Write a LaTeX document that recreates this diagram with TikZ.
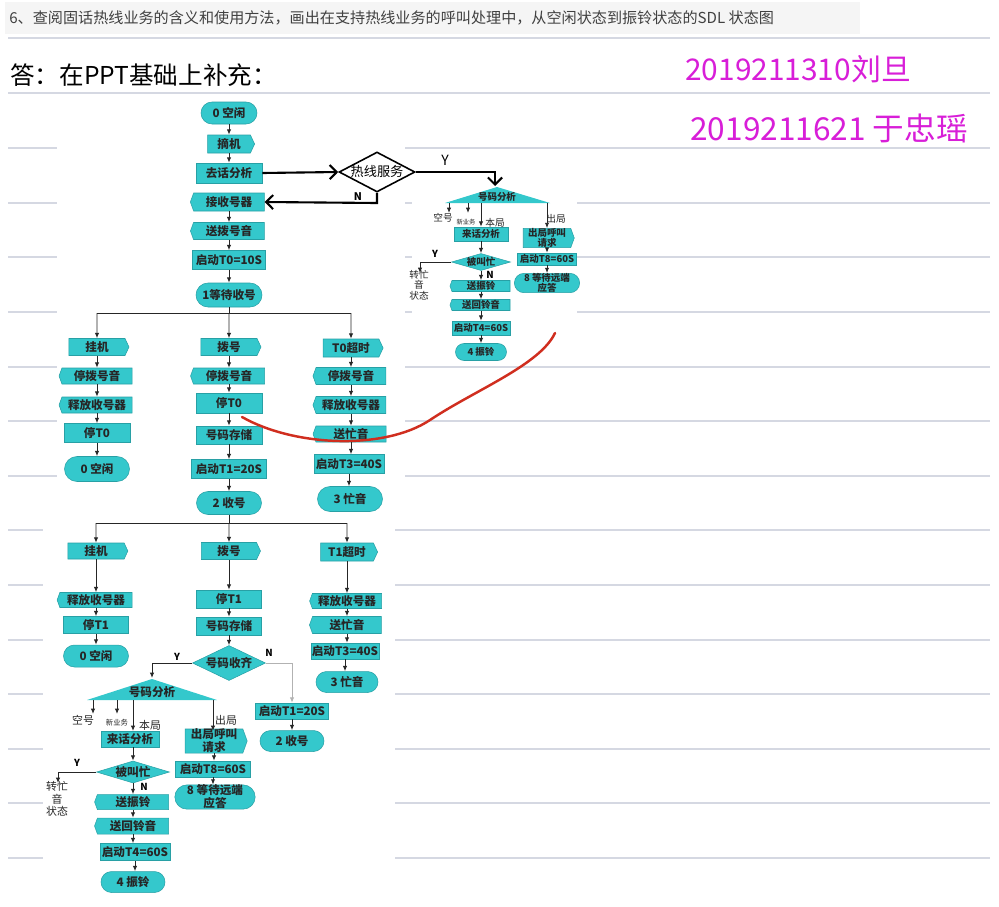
\documentclass[tikz,border=0pt]{standalone}
\usepackage{fontspec}
\setmainfont{Noto Sans CJK SC}
\usetikzlibrary{shapes.geometric,shapes.misc,shapes.symbols,arrows.meta}
\definecolor{tq}{RGB}{52,200,204}
\definecolor{tqd}{RGB}{40,160,165}
\definecolor{rule}{RGB}{213,216,226}
\definecolor{pen}{RGB}{216,30,216}
\definecolor{redpen}{RGB}{208,46,31}
\newcommand\lbl{\fontsize{6.6}{7.4}\selectfont\bfseries}
\newcommand\mlbl{\fontsize{5.4}{5.8}\selectfont\bfseries}
\tikzset{
  wh/.style 2 args={minimum width=#1*0.02cm, minimum height=#2*0.02cm},
  base/.style={fill=tq, draw=tqd, line width=0.3pt, inner sep=0pt, text=black!85, font=\lbl},
  box/.style={base, rectangle},
  term/.style={base, rounded rectangle},
  sigin/.style={base, signal, signal from=east, signal pointer angle=130},
  sigout/.style={base, signal, signal to=west, signal pointer angle=140},
  sigoutr/.style={base, signal, signal to=east, signal pointer angle=140},
  dec/.style={base, diamond, label={[font=\lbl, text=black!85, inner sep=0pt]center:#1}},
  mdec/.style={base, diamond, label={[font=\mlbl, text=black!85, inner sep=0pt]center:#1}},
  mini/.style={font=\mlbl},
  flow/.style={-{Latex[length=3pt,width=2.4pt]}, line width=0.5pt, black!85},
  hand/.style={line width=1.2pt, -{Straight Barb[length=4pt,width=8pt]}},
  tag/.style={font=\fontsize{5.5}{6}\selectfont, text=black!85, inner sep=0pt},
  yn/.style={font=\fontsize{5.5}{6}\selectfont\bfseries, inner sep=0pt}
}
\begin{document}
\begin{tikzpicture}[x=0.02cm,y=-0.02cm]
\fill[white] (0,0) rectangle (999,906);
\useasboundingbox (0,0) rectangle (999,906);
% page
\fill[black!4] (5,2) rectangle (860,34);
\node[anchor=west, inner sep=0pt, font=\fontsize{8.6}{9}\selectfont, text=black!75] (task) at (9,18)
  {6、查阅固话热线业务的含义和使用方法，画出在支持热线业务的呼叫处理中，从空闲状态到振铃状态的SDL 状态图};
\foreach \y in {38,93,148,203,257,312,367,421,476,530,585,640,694,749,803,858}
  \draw[rule, line width=0.8pt] (8,\y) -- (990,\y);
\fill[white] (57,95) rectangle (405,515);
\fill[white] (43,515) rectangle (395,906);
\fill[white] (412,178) rectangle (577,364);
\node[anchor=west, inner sep=0pt, font=\fontsize{14}{15}\selectfont] (ans) at (10,75) {答：在PPT基础上补充：};
\node[anchor=west, inner sep=0pt, font=\fontsize{17}{18}\selectfont, text=pen] (id1) at (685,69) {2019211310刘旦};
\node[anchor=west, inner sep=0pt, font=\fontsize{18}{19}\selectfont, text=pen] (id2) at (690,128) {2019211621 于忠瑶};

% upper column
\node[term, wh={56}{22}] (s0) at (229,113) {0 空闲};
\node[sigin, wh={47}{18}] (offhk) at (229,144) {摘机};
\node[box, wh={66}{20}] (ana) at (229,173) {去话分析};
\node[sigout, wh={74}{18}] (rcv) at (229,202) {接收号器};
\node[sigout, wh={74}{17}] (dt) at (229,231) {送拨号音};
\node[box, wh={73}{19}] (t0) at (229,260) {启动T0=10S};
\node[term, wh={66}{24}] (s1) at (229,295) {1等待收号};
\foreach \a/\b in {s0/offhk, offhk/ana, rcv/dt, dt/t0, t0/s1}
  \draw[flow] (\a.south) -- (\a.south |- \b.north);

% hotline
\node[diamond, draw, fill=white, line width=0.9pt, inner sep=0pt, wh={76}{40},
  label={[font=\fontsize{7.5}{8}\selectfont, inner sep=0pt]center:热线服务}] (hot) at (377,172) {};
\draw[hand] (ana.east) -- (hot.west);
\draw[hand] (hot.east) -- (495,172) -- (495,186);
\draw[hand] (hot.south) -- (377,203) -- (rcv.east);
\node[font=\fontsize{8}{8}\selectfont, inner sep=0pt] (hy) at (445,160) {Y};
\node[font=\fontsize{6}{6}\selectfont\bfseries\itshape, inner sep=0pt] (hn) at (358,197) {N};

% hotline, number analysis
\fill[tq] (497,187) -- (550,203) -- (445,203) -- cycle;
\node[inner sep=0pt, font=\mlbl, text=black!85] (an0) at (497,197) {号码分析};
\node[box, mini, wh={54}{14}] (lca) at (481,234) {来话分析};
\node[mdec=被叫忙, wh={59}{17}] (busy) at (481,262) {};
\node[sigout, mini, wh={60}{11}] (ring) at (481,286) {送振铃};
\node[sigout, mini, wh={60}{11}] (rbt) at (481,305) {送回铃音};
\node[box, mini, wh={58}{14}] (t4) at (481,328) {启动T4=60S};
\node[term, mini, wh={51}{17}] (s4) at (481,352) {4 振铃};
\node[sigoutr, mini, wh={51}{19}, align=center] (orq) at (547,238) {出局呼叫\\请求};
\node[box, mini, wh={59}{12}] (t8) at (547,259) {启动T8=60S};
\node[term, mini, wh={58}{18}, align=center] (s8) at (547,283) {8 等待远端\\应答};
\foreach \x in {449,468} \draw[flow] (\x,203) -- (\x,213);
\draw[flow] (481,203) -- (lca.north);
\draw[flow] (547,203) -- (orq.north);
\foreach \a/\b in {lca/busy, busy/ring, ring/rbt, rbt/t4, t4/s4, orq/t8, t8/s8}
  \draw[flow] (\a.south) -- (\a.south |- \b.north);
\draw[flow] (busy.west) -- (420,262) -- (420,273);
\node[tag] (k1) at (443,218) {空号};
\node[tag, font=\fontsize{3.6}{4}\selectfont] (k2) at (466,222) {新业务};
\node[tag] (k3) at (495,223) {本局};
\node[tag] (k4) at (556,219) {出局};
\node[yn] (y1) at (435,254) {Y};
\node[yn] (n1) at (490,275) {N};
\node[tag, align=center] (bz1) at (419,285) {转忙\\音\\状态};

% first branching
\coordinate (br1) at (229,313);
\node[sigin, wh={60}{17}] (hk1) at (97,347) {挂机};
\node[sigout, wh={73}{16}] (sdt1) at (97,376) {停拨号音};
\node[sigout, wh={73}{16}] (rel1) at (97,405) {释放收号器};
\node[box, wh={66}{19}] (st01) at (97,433) {停T0};
\node[term, wh={65}{25}] (s0b) at (97,469) {0 空闲};
\node[sigin, wh={60}{17}] (dial1) at (229,347) {拨号};
\node[sigout, wh={74}{16}] (sdt2) at (229,376) {停拨号音};
\node[box, wh={66}{20}] (st02) at (229,403) {停T0};
\node[box, wh={66}{18}] (sto1) at (229,435) {号码存储};
\node[box, wh={75}{19}] (t1) at (229,469) {启动T1=20S};
\node[term, wh={65}{23}] (s2) at (229,503) {2 收号};
\node[sigin, wh={60}{18}] (to0) at (351,348) {T0超时};
\node[sigout, wh={73}{17}] (sdt3) at (351,376) {停拨号音};
\node[sigout, wh={73}{17}] (rel2) at (351,405) {释放收号器};
\node[sigout, wh={73}{16}] (busy1) at (351,434) {送忙音};
\node[box, wh={70}{19}] (t3) at (349,464) {启动T3=40S};
\node[term, wh={65}{25}] (s3) at (350,499) {3 忙音};
\draw[black!85, line width=0.5pt] (s1.south) -- (br1) (hk1 |- br1) -- (to0 |- br1);
\foreach \n in {hk1, dial1, to0} \draw[flow] (\n |- br1) -- (\n);
\foreach \a/\b in {hk1/sdt1, sdt1/rel1, rel1/st01, st01/s0b, dial1/sdt2, sdt2/st02, st02/sto1, sto1/t1, t1/s2,
  to0/sdt3, sdt3/rel2, rel2/busy1, busy1/t3, t3/s3}
  \draw[flow] (\a.south) -- (\a.south |- \b.north);

% second branching
\coordinate (br2) at (229,523);
\node[sigin, wh={60}{16}] (hk2) at (96,551) {挂机};
\node[sigout, wh={75}{15}] (rel3) at (96,600) {释放收号器};
\node[box, wh={65}{17}] (st1a) at (96,625) {停T1};
\node[term, wh={65}{22}] (s0c) at (96,656) {0 空闲};
\node[sigin, wh={59}{17}] (dial2) at (229,551) {拨号};
\node[box, wh={65}{18}] (st1b) at (229,599) {停T1};
\node[box, wh={65}{18}] (sto2) at (229,626) {号码存储};
\node[dec=号码收齐, wh={73}{35}] (full) at (229,663) {};
\node[sigin, wh={57}{18}] (to1) at (347,552) {T1超时};
\node[sigout, wh={72}{15}] (rel4) at (347,601) {释放收号器};
\node[sigout, wh={72}{17}] (busy3) at (347,625) {送忙音};
\node[box, wh={68}{16}] (t3b) at (345,651) {启动T3=40S};
\node[term, wh={62}{21}] (s3b) at (347,682) {3 忙音};
\node[box, wh={73}{16}] (t1b) at (292,711) {启动T1=20S};
\node[term, wh={64}{21}] (s2b) at (292,741) {2 收号};
\draw[black!85, line width=0.5pt] (s2.south) -- (br2) (hk2 |- br2) -- (to1 |- br2);
\foreach \n in {hk2, dial2, to1} \draw[flow] (\n |- br2) -- (\n);
\foreach \a/\b in {hk2/rel3, rel3/st1a, st1a/s0c, dial2/st1b, st1b/sto2, sto2/full,
  to1/rel4, rel4/busy3, busy3/t3b, t3b/s3b, t1b/s2b}
  \draw[flow] (\a.south) -- (\a.south |- \b.north);
\draw[flow, black!30] (full.east) -| (t1b.north);
\draw[flow] (full.west) -| (152,678);
\node[yn] (y2) at (177,657) {Y};
\node[yn] (n2) at (269,653) {N};

% number analysis
\fill[tq] (152,679) -- (217,700) -- (87,700) -- cycle;
\node[inner sep=0pt, font=\lbl, text=black!85] (an1) at (152,692) {号码分析};
\node[box, wh={58}{16}] (lcb) at (130,739) {来话分析};
\node[dec=被叫忙, wh={73}{22}] (busy2) at (133,772) {};
\node[sigout, wh={74}{15}] (ring2) at (133,802) {送振铃};
\node[sigout, wh={74}{16}] (rbt2) at (133,826) {送回铃音};
\node[box, wh={70}{17}] (t4b) at (135,852) {启动T4=60S};
\node[term, wh={64}{21}] (s4b) at (133,882) {4 振铃};
\node[sigoutr, wh={62}{21}, align=center] (orq2) at (214,741) {出局呼叫\\请求};
\node[box, wh={75}{16}] (t8b) at (213,769) {启动T8=60S};
\node[term, wh={71}{21}, align=center] (s8b) at (215,797) {8 等待远端\\应答};
\foreach \x in {93,117} \draw[flow] (\x,700) -- (\x,714);
\draw[flow] (133,700) -- (133,731);
\draw[flow] (213,700) -- (213,731);
\foreach \a/\b in {busy2/ring2, ring2/rbt2, rbt2/t4b, t4b/s4b, orq2/t8b, t8b/s8b}
  \draw[flow] (\a.south) -- (\a.south |- \b.north);
\draw[flow] (133,747) -- (busy2.north);
\draw[flow] (busy2.west) -- (58,772) -- (58,783);
\node[tag, font=\fontsize{6.2}{7}\selectfont] (k5) at (83,720) {空号};
\node[tag, font=\fontsize{4.2}{5}\selectfont] (k6) at (117,723) {新业务};
\node[tag, font=\fontsize{6.2}{7}\selectfont] (k7) at (150,725) {本局};
\node[tag, font=\fontsize{6.2}{7}\selectfont] (k8) at (226,720) {出局};
\node[yn] (y3) at (77,763) {Y};
\node[yn] (n3) at (144,787) {N};
\node[tag, align=center, font=\fontsize{6.2}{7.2}\selectfont] (bz2) at (57,799) {转忙\\音\\状态};

% red stroke
\draw[redpen, line width=1.4pt, line cap=round] (242,417) .. controls (295,447) and (385,450) .. (430,420)
  .. controls (475,390) and (540,365) .. (555,333);
\end{tikzpicture}
\end{document}
